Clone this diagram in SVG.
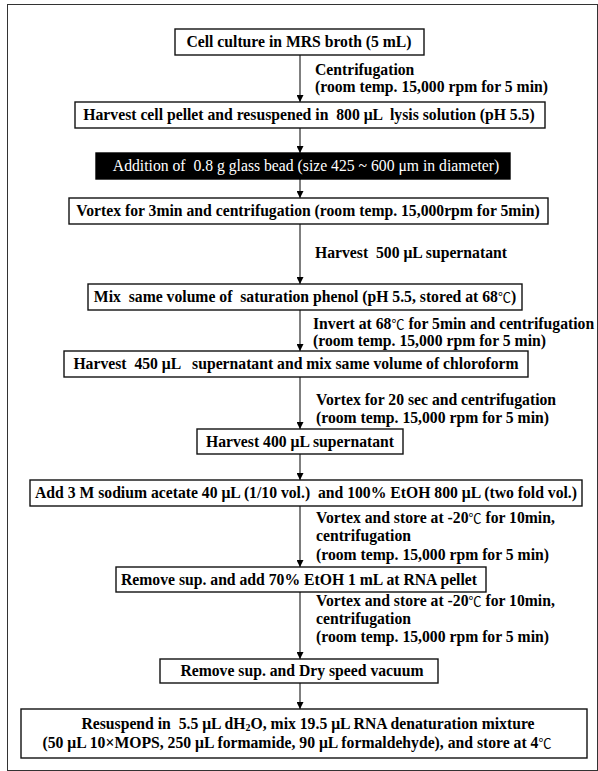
<svg xmlns="http://www.w3.org/2000/svg" width="598" height="771" viewBox="0 0 598 771">
<defs>
<marker id="ah" viewBox="0 0 10 10" refX="10" refY="5" markerWidth="8" markerHeight="7" markerUnits="userSpaceOnUse" orient="auto">
<path d="M0,0 L10,5 L0,10 Z" fill="#000"/>
</marker>
<style>
.frame{fill:none;stroke:#333;stroke-width:1}
.box{fill:#fff;stroke:#111;stroke-width:1.4}
.dark{fill:#000;stroke:#000;stroke-width:1.4}
text{font-family:"Liberation Serif","DejaVu Serif",serif;font-weight:bold;font-size:15.7px;fill:#000;white-space:pre}
.c{text-anchor:middle}
.w{font-weight:normal;fill:#fff}
.dg{font-family:"Noto Sans CJK SC","DejaVu Sans",sans-serif;font-weight:normal;font-size:13px}
.cn{stroke:#000;stroke-width:1;fill:none;marker-end:url(#ah)}
</style>
</defs>
<rect width="598" height="771" fill="#fff"/>
<rect class="frame" x="7.5" y="4.5" width="590" height="766"/>

<g id="connectors">
<line class="cn" x1="300" y1="55" x2="300" y2="102"/>
<line class="cn" x1="300" y1="128" x2="300" y2="153"/>
<line class="cn" x1="300" y1="179" x2="300" y2="198"/>
<line class="cn" x1="300" y1="224" x2="300" y2="284"/>
<line class="cn" x1="300" y1="310" x2="300" y2="351"/>
<line class="cn" x1="300" y1="377" x2="300" y2="429"/>
<line class="cn" x1="300" y1="454" x2="300" y2="480"/>
<line class="cn" x1="300" y1="506" x2="300" y2="567"/>
<line class="cn" x1="300" y1="592" x2="300" y2="659"/>
<line class="cn" x1="300" y1="683" x2="300" y2="709"/>
</g>

<g id="labels">
<text x="315" y="75">Centrifugation</text>
<text x="315" y="92">(room temp. 15,000 rpm for 5 min)</text>
<text x="315" y="258">Harvest  500 μL supernatant</text>
<text x="313" y="329">Invert at 68<tspan class="dg">℃</tspan> for 5min and centrifugation</text>
<text x="313" y="346">(room temp. 15,000 rpm for 5 min)</text>
<text x="316" y="405">Vortex for 20 sec and centrifugation</text>
<text x="316" y="423">(room temp. 15,000 rpm for 5 min)</text>
<text x="316" y="523">Vortex and store at -20<tspan class="dg">℃</tspan> for 10min,</text>
<text x="316" y="541">centrifugation</text>
<text x="316" y="560">(room temp. 15,000 rpm for 5 min)</text>
<text x="316" y="606">Vortex and store at -20<tspan class="dg">℃</tspan> for 10min,</text>
<text x="316" y="624">centrifugation</text>
<text x="316" y="642">(room temp. 15,000 rpm for 5 min)</text>
</g>

<g id="n1">
<rect class="box" x="175" y="29" width="249" height="26"/>
<text class="c" x="299" y="47">Cell culture in MRS broth (5 mL)</text>
</g>
<g id="n2">
<rect class="box" x="75" y="102" width="470" height="26"/>
<text class="c" x="309" y="120">Harvest cell pellet and resuspened in  800 μL  lysis solution (pH 5.5)</text>
</g>
<g id="n3">
<rect class="dark" x="96" y="153" width="414" height="26"/>
<text class="c w" x="306" y="171">Addition of  0.8 g glass bead (size 425 ~ 600 μm in diameter)</text>
</g>
<g id="n4">
<rect class="box" x="69" y="198" width="479" height="26"/>
<text class="c" x="308" y="216">Vortex for 3min and centrifugation (room temp. 15,000rpm for 5min)</text>
</g>
<g id="n5">
<rect class="box" x="88" y="284" width="434" height="26"/>
<text class="c" x="305" y="302">Mix  same volume of  saturation phenol (pH 5.5, stored at 68<tspan class="dg">℃</tspan>)</text>
</g>
<g id="n6">
<rect class="box" x="64" y="351" width="464" height="26"/>
<text class="c" x="296" y="369">Harvest  450 μL   supernatant and mix same volume of chloroform</text>
</g>
<g id="n7">
<rect class="box" x="197" y="429" width="206" height="25"/>
<text class="c" x="300" y="447">Harvest 400 μL supernatant</text>
</g>
<g id="n8">
<rect class="box" x="30" y="480" width="552" height="26"/>
<text class="c" x="306" y="498">Add 3 M sodium acetate 40 μL (1/10 vol.)  and 100% EtOH 800 μL (two fold vol.)</text>
</g>
<g id="n9">
<rect class="box" x="116" y="567" width="370" height="25"/>
<text class="c" x="299" y="585">Remove sup. and add 70% EtOH 1 mL at RNA pellet</text>
</g>
<g id="n10">
<rect class="box" x="160" y="659" width="278" height="24"/>
<text class="c" x="302" y="676">Remove sup. and Dry speed vacuum</text>
</g>
<g id="n11">
<rect class="box" x="21" y="709" width="566" height="49"/>
<text class="c" x="308" y="729">Resuspend in  5.5 μL dH<tspan font-size="10" dy="2">2</tspan><tspan dy="-2">O, mix 19.5 μL RNA denaturation mixture</tspan></text>
<text class="c" x="297" y="748">(50 μL 10×MOPS, 250 μL formamide, 90 μL formaldehyde), and store at 4<tspan class="dg">℃</tspan></text>
</g>
</svg>
